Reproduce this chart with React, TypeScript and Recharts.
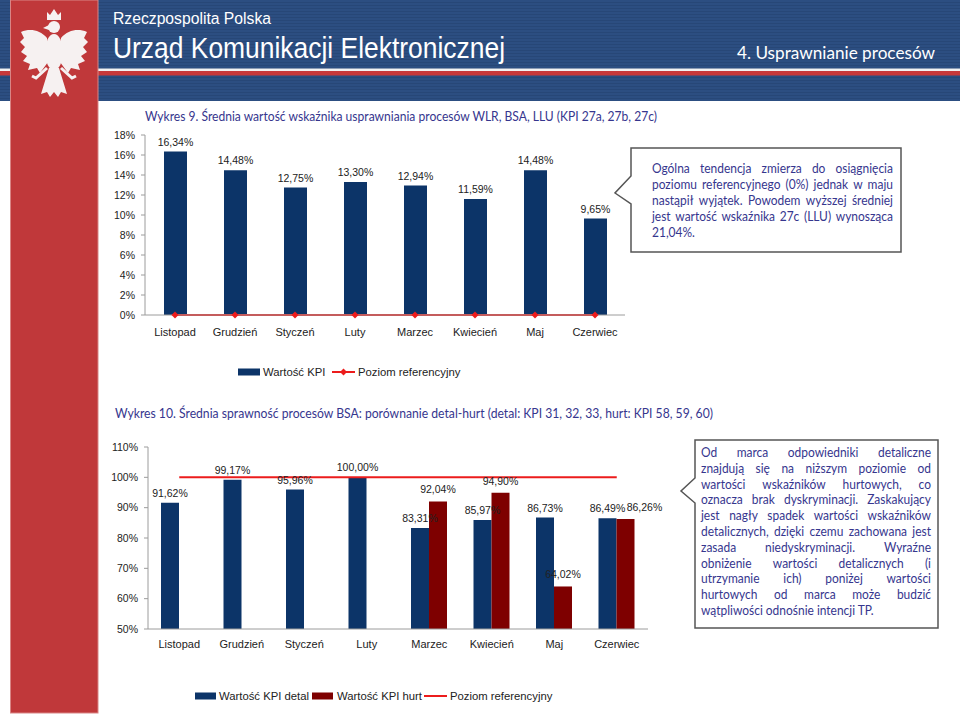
import React from 'react';
import { ComposedChart, Bar, Line, XAxis, YAxis, LabelList } from 'recharts';

// months shared by both charts
const months = ['Listopad', 'Grudzień', 'Styczeń', 'Luty', 'Marzec', 'Kwiecień', 'Maj', 'Czerwiec'];
const bandEdges = [0, 1, 2, 3, 4, 5, 6, 7, 8];

// Wykres 9
const kpiValues = [16.34, 14.48, 12.75, 13.3, 12.94, 11.59, 14.48, 9.65];
const refLevel1 = [0, 0, 0, 0, 0, 0, 0, 0];
const yTicks1 = [0, 2, 4, 6, 8, 10, 12, 14, 16, 18];

// Wykres 10
const detalValues = [91.62, 99.17, 95.96, 100.0, 83.31, 85.97, 86.73, 86.49];
const hurtValues: (number | null)[] = [null, null, null, null, 92.04, 94.9, 64.02, 86.26];
const refLevel2 = [100, 100, 100, 100, 100, 100, 100, 100];
const yTicks2 = [50, 60, 70, 80, 90, 100, 110];

const box1Lines = [
  'Ogólna tendencja zmierza do osiągnięcia',
  'poziomu referencyjnego (0%) jednak w maju',
  'nastąpił wyjątek. Powodem wyższej średniej',
  'jest wartość wskaźnika 27c (LLU) wynosząca',
  '21,04%.',
];

const box2Lines = [
  'Od marca odpowiedniki detaliczne',
  'znajdują się na niższym poziomie od',
  'wartości wskaźników hurtowych, co',
  'oznacza brak dyskryminacji. Zaskakujący',
  'jest nagły spadek wartości wskaźników',
  'detalicznych, dzięki czemu zachowana jest',
  'zasada niedyskryminacji. Wyraźne',
  'obniżenie wartości detalicznych (i',
  'utrzymanie ich) poniżej wartości',
  'hurtowych od marca może budzić',
  'wątpliwości odnośnie intencji TP.',
];

const NAVY = '#0c3468';
const MAROON = '#7e0000';
const RED = '#ec1c1c';
const TEXT_BLUE = '#36368e';
const AXIS = '#9c9c9c';
const ARIAL = '"Liberation Sans", Arial, sans-serif';
const CALIBRI = 'Lato, "Open Sans", sans-serif';

const data1 = months.map((m, i) => ({ month: m, kpi: kpiValues[i], level: refLevel1[i] }));
const data2 = months.map((m, i) => ({ month: m, detal: detalValues[i], hurt: hurtValues[i], level: refLevel2[i] }));

const pct = (v: any) => (v == null || v === '' ? '' : `${Number(v).toFixed(2).replace('.', ',')}%`);

const Diamond = (props: any) => {
  const { cx, cy } = props;
  if (cx == null || cy == null) return <g />;
  return <path d={`M${cx},${cy - 3.5} L${cx + 3.5},${cy} L${cx},${cy + 3.5} L${cx - 3.5},${cy} Z`} fill={RED} />;
};

const renderDiamond = (props: any) => <Diamond key={`d-${props.index}`} cx={props.cx} cy={props.cy} />;

// hurt label: nudged right when it would sit on top of the detal label
const HurtLabel = (props: any) => {
  const { x, y, width, value } = props;
  if (value == null || value === '' || x == null) return null;
  const idx = hurtValues.indexOf(Number(value));
  const clash = idx >= 0 && Math.abs(detalValues[idx] - Number(value)) < 2;
  const w = Number(width) || 18;
  const cx = Number(x) + w / 2 + (clash ? w + 1 : 0);
  return (
    <text x={cx} y={Number(y) - 8} textAnchor="middle" fontSize={10.5} fill="#222" fontFamily={ARIAL}>
      {pct(value)}
    </text>
  );
};

const tickStyle = { fontSize: 11, fill: '#222', fontFamily: ARIAL };
const yTickStyle = { fontSize: 10.5, fill: '#222', fontFamily: ARIAL };

const JustifiedBox = ({ lines, left, top, width, lineHeight }: any) => {
  const k = 0.9;
  return (
    <div style={{ position: 'absolute', left, top, width }}>
      <div
        style={{
          width: width / k,
          transform: `scaleX(${k})`,
          transformOrigin: '0 0',
          fontFamily: CALIBRI,
          fontSize: 13.3,
          color: TEXT_BLUE,
          lineHeight: `${lineHeight}px`,
        }}
      >
        {lines.map((ln: string, i: number) =>
          i < lines.length - 1 ? (
            <div key={i} style={{ display: 'flex', justifyContent: 'space-between', whiteSpace: 'nowrap', height: lineHeight }}>
              {ln.split(' ').map((w, j) => (
                <span key={j}>{w}</span>
              ))}
            </div>
          ) : (
            <div key={i} style={{ whiteSpace: 'nowrap', height: lineHeight }}>
              {ln}
            </div>
          )
        )}
      </div>
    </div>
  );
};

const Eagle = () => (
  <g fill="#f6f1f1">
    <path d="M47,20 L47,12 L50,15 L54,9 L58,15 L61,12 L61,20 Z" />
    <ellipse cx={54} cy={27} rx={6} ry={6} />
    <path d="M49,25 L43,28 L49,30 Z" />
    <ellipse cx={54} cy={52} rx={9} ry={18} />
    <path d="M47,38 C40,30 30,28 21,32 L24,38 L20,42 L25,47 L21,52 L27,56 L23,61 L30,64 L28,70 L37,68 L40,73 L48,62 Z" />
    <path d="M61,38 C68,30 78,28 87,32 L84,38 L88,42 L83,47 L87,52 L81,56 L85,61 L78,64 L80,70 L71,68 L68,73 L60,62 Z" />
    <path d="M49,68 L41,94 L47,92 L50,97 L54,92 L58,97 L61,92 L67,94 L59,68 Z" />
    <path d="M47,68 L36,78 L32,76 M61,68 L72,78 L76,76" stroke="#f6f1f1" strokeWidth={3} fill="none" />
  </g>
);

const Backdrop = () => (
  <svg width={960} height={716} style={{ position: 'absolute', left: 0, top: 0 }}>
    <defs>
      <pattern id="hdrLines" width={4} height={3} patternUnits="userSpaceOnUse">
        <rect width={4} height={3} fill="#2c4e81" />
        <rect y={2} width={4} height={1} fill="#274777" />
      </pattern>
    </defs>
    <rect x={0} y={0} width={960} height={101} fill="url(#hdrLines)" />
    <rect x={0} y={68.5} width={960} height={2.5} fill="#f2f2f2" />
    <rect x={0} y={71} width={960} height={4.5} fill="#c8383a" />
    <rect x={10.5} y={0} width={87.5} height={713} fill="#c0383a" stroke="#d98585" strokeWidth={1} />
    <Eagle />

    <text x={113} y={24} fill="#fff" fontFamily={ARIAL} fontSize={16} textLength={158} lengthAdjust="spacingAndGlyphs">
      Rzeczpospolita Polska
    </text>
    <text x={113} y={58} fill="#fff" fontFamily={ARIAL} fontSize={29} textLength={392} lengthAdjust="spacingAndGlyphs">
      Urząd Komunikacji Elektronicznej
    </text>
    <text x={737} y={59} fill="#fff" fontFamily={CALIBRI} fontSize={17} textLength={198} lengthAdjust="spacingAndGlyphs">
      4. Usprawnianie procesów
    </text>

    <text x={145} y={121} fill={TEXT_BLUE} fontFamily={CALIBRI} fontSize={13.3} textLength={512} lengthAdjust="spacingAndGlyphs">
      Wykres 9. Średnia wartość wskaźnika usprawniania procesów WLR, BSA, LLU (KPI 27a, 27b, 27c)
    </text>
    <text x={115} y={418} fill={TEXT_BLUE} fontFamily={CALIBRI} fontSize={13.3} textLength={598} lengthAdjust="spacingAndGlyphs">
      Wykres 10. Średnia sprawność procesów BSA: porównanie detal-hurt (detal: KPI 31, 32, 33, hurt: KPI 58, 59, 60)
    </text>

    <path d="M631,148 H901 V252 H631 V204 L615,193 L631,176 Z" fill="#fff" stroke="#555" strokeWidth={1.5} />
    <path d="M695,440 H938 V628 H695 V503 L681,491 L695,478 Z" fill="#fff" stroke="#555" strokeWidth={1.5} />

    {/* legend 1 */}
    <rect x={238} y={368.5} width={22} height={7} fill={NAVY} />
    <text x={263} y={376} fontFamily={ARIAL} fontSize={11.3} fill="#222">Wartość KPI</text>
    <line x1={332} y1={372} x2={355} y2={372} stroke={RED} strokeWidth={2} />
    <Diamond cx={343.5} cy={372} />
    <text x={358} y={376} fontFamily={ARIAL} fontSize={11.3} fill="#222">Poziom referencyjny</text>

    {/* legend 2 */}
    <rect x={195} y={692.5} width={21} height={7} fill={NAVY} />
    <text x={219} y={700} fontFamily={ARIAL} fontSize={11.3} fill="#222">Wartość KPI detal</text>
    <rect x={312} y={692.5} width={21} height={7} fill={MAROON} />
    <text x={337} y={700} fontFamily={ARIAL} fontSize={11.3} fill="#222">Wartość KPI hurt</text>
    <line x1={424} y1={696} x2={447} y2={696} stroke={RED} strokeWidth={2} />
    <text x={450} y={700} fontFamily={ARIAL} fontSize={11.3} fill="#222">Poziom referencyjny</text>
  </svg>
);

// tick marks between categories, like the category-boundary ticks of the original
const EdgeAxis = () => (
  <XAxis
    xAxisId="edges"
    type="number"
    domain={[0, 8]}
    ticks={bandEdges}
    allowDataOverflow
    height={0}
    tick={false}
    tickSize={4}
    axisLine={false}
    tickLine={{ stroke: AXIS }}
  />
);

export default function App() {
  return (
    <div style={{ position: 'relative', width: 960, height: 716, background: '#fff', overflow: 'hidden' }}>
      <style>{'body{margin:0}'}</style>
      <Backdrop />

      <div style={{ position: 'absolute', left: 0, top: 100 }}>
        <ComposedChart width={640} height={240} data={data1} margin={{ top: 35, right: 15, left: 0, bottom: 0 }}>
          {EdgeAxis()}
          <XAxis
            dataKey="month"
            interval={0}
            height={25}
            tickLine={false}
            tickSize={6}
            tickMargin={7}
            axisLine={{ stroke: AXIS }}
            tick={tickStyle}
          />
          <YAxis
            width={145}
            domain={[0, 18]}
            ticks={yTicks1}
            tickFormatter={(v) => `${v}%`}
            tickSize={4}
            tickMargin={6}
            axisLine={{ stroke: AXIS }}
            tickLine={{ stroke: AXIS }}
            tick={yTickStyle}
          />
          <Bar dataKey="kpi" fill={NAVY} barSize={23} isAnimationActive={false}>
            <LabelList dataKey="kpi" position="top" offset={6} formatter={pct} fontSize={10.5} fill="#222" fontFamily={ARIAL} />
          </Bar>
          <Line dataKey="level" stroke={RED} strokeWidth={2} dot={renderDiamond} activeDot={false} isAnimationActive={false} />
        </ComposedChart>
      </div>

      <div style={{ position: 'absolute', left: 0, top: 400 }}>
        <ComposedChart width={685} height={254} data={data2} barGap={0} margin={{ top: 47, right: 37, left: 0, bottom: 0 }}>
          {EdgeAxis()}
          <XAxis
            dataKey="month"
            interval={0}
            height={25}
            tickLine={false}
            tickSize={6}
            tickMargin={5}
            axisLine={{ stroke: AXIS }}
            tick={tickStyle}
          />
          <YAxis
            width={148}
            domain={[50, 110]}
            ticks={yTicks2}
            tickFormatter={(v) => `${v}%`}
            tickSize={4}
            tickMargin={6}
            axisLine={{ stroke: AXIS }}
            tickLine={{ stroke: AXIS }}
            tick={yTickStyle}
          />
          <Bar dataKey="detal" fill={NAVY} barSize={18} isAnimationActive={false}>
            <LabelList dataKey="detal" position="top" offset={6} formatter={pct} fontSize={10.5} fill="#222" fontFamily={ARIAL} />
          </Bar>
          <Bar dataKey="hurt" fill={MAROON} barSize={18} isAnimationActive={false}>
            <LabelList dataKey="hurt" content={HurtLabel} />
          </Bar>
          <Line dataKey="level" stroke={RED} strokeWidth={2} dot={false} activeDot={false} isAnimationActive={false} />
        </ComposedChart>
      </div>

      <JustifiedBox lines={box1Lines} left={652} top={160} width={241} lineHeight={16} />
      <JustifiedBox lines={box2Lines} left={701} top={445} width={230} lineHeight={15.8} />
    </div>
  );
}
